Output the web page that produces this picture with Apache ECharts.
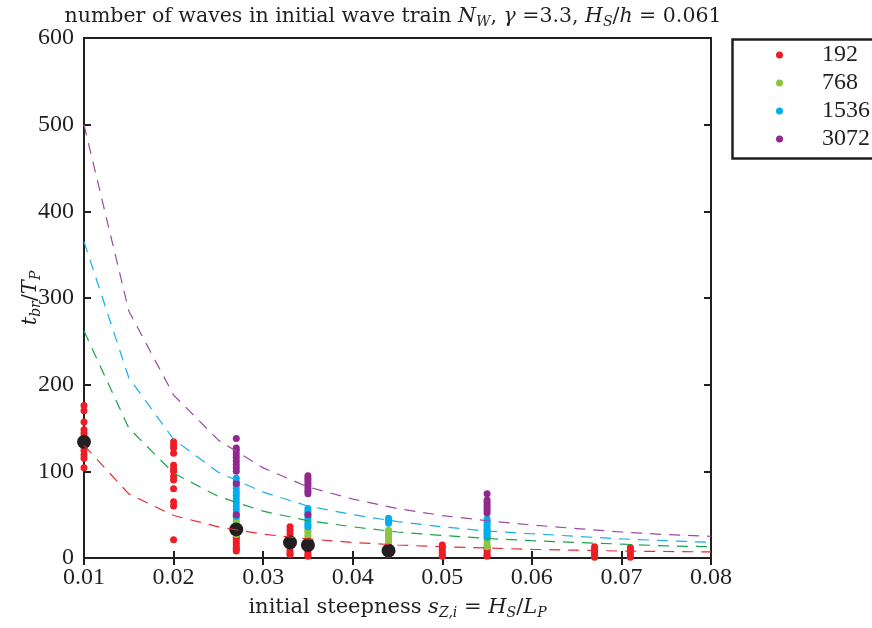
<!DOCTYPE html>
<html>
<head>
<meta charset="utf-8">
<script src="https://cdn.jsdelivr.net/npm/echarts@6/dist/echarts.min.js"></script>
<style>html,body{margin:0;padding:0;background:#fff}#c{width:872px;height:628px}</style>
</head>
<body>
<div id="c"></div>
<script>
// ---- data ----
const seriesNames = ['192', '768', '1536', '3072'];
const scatterColors = ['#ee1c25', '#8cc63f', '#00aeef', '#92278f'];
const lineColors = ['#ea2a31', '#1aa34a', '#16b0e8', '#9a4aa0'];

// scatter groups: [steepness, [t_br/T_P values]]
const pts192 = [
  [0.01, [176, 170, 157, 148, 144, 139, 134, 128, 124, 119, 115, 104]],
  [0.02, [134, 130, 127, 121, 107, 103, 100, 94, 90, 80, 65, 60, 21]],
  [0.027, [30, 27, 24, 21, 18, 15, 12, 10, 8]],
  [0.033, [36, 32, 28, 24, 20, 16, 12, 8, 5, 4]],
  [0.035, [15, 12, 9, 6, 3, 2]],
  [0.044, [8, 6, 4]],
  [0.05, [15, 12, 9, 6, 3, 2]],
  [0.055, [12, 9, 6, 3, 2]],
  [0.067, [13, 10, 7, 4, 1]],
  [0.071, [12, 9, 6, 3, 1]]
];
const pts768 = [
  [0.027, [48, 45, 42, 39, 36, 33, 30, 27]],
  [0.035, [35, 32, 29, 26, 23, 20, 17]],
  [0.044, [32, 29, 26, 23, 20, 17, 15]],
  [0.055, [32, 28, 24, 20, 16, 13]]
];
const pts1536 = [
  [0.027, [92, 88, 84, 80, 76, 72, 68, 64, 60, 56, 52, 48]],
  [0.035, [57, 54, 51, 48, 45, 42, 39, 36]],
  [0.044, [46, 43, 40]],
  [0.055, [45, 42, 39, 36, 33, 30, 27, 24]]
];
const pts3072 = [
  [0.027, [138, 127, 124, 120, 116, 112, 108, 104, 100, 86, 50]],
  [0.035, [95, 92, 89, 86, 83, 80, 77, 74, 50]],
  [0.055, [74, 67, 64, 61, 58, 55, 52]]
];
// median markers
const medianX = [0.01, 0.027, 0.033, 0.035, 0.044];
const medianY = [134, 33, 18, 15, 8.5];

// dashed fit curves
const curveX = [0.01, 0.015, 0.02, 0.025, 0.03, 0.035, 0.04, 0.045, 0.05, 0.055, 0.06, 0.065, 0.07, 0.075, 0.08];
const curve192 = [130, 74, 49, 36, 27.5, 22, 18, 15, 13, 11.5, 10, 9, 8, 7.5, 7];
const curve768 = [262, 150, 98, 71, 54, 43, 36, 30, 26, 22.5, 20, 18, 16, 14, 13];
const curve1536 = [365, 208, 137, 99, 76, 60, 50, 42, 36, 31, 28, 25, 22, 20, 18];
const curve3072 = [500, 285, 188, 136, 104, 82, 68, 57, 49, 43, 38, 34, 30, 27, 25];

// axis ticks
const xTicks = [0.01, 0.02, 0.03, 0.04, 0.05, 0.06, 0.07, 0.08];
const yTicks = [0, 100, 200, 300, 400, 500, 600];

// ---- build ----
const FONT = '"Liberation Serif", "DejaVu Serif", serif';
const MFONT = '"DejaVu Serif", "Liberation Serif", serif';
const INK = '#231f20';
function flat(groups) {
  const out = [];
  groups.forEach(g => g[1].forEach(v => out.push([g[0], v])));
  return out;
}
const groups = [pts192, pts768, pts1536, pts3072];
const curves = [curve192, curve768, curve1536, curve3072];

const series = [];
groups.forEach((g, i) => {
  series.push({
    name: seriesNames[i], type: 'scatter', data: flat(g),
    symbol: 'circle', symbolSize: 7, z: 2 + i,
    itemStyle: { color: scatterColors[i], opacity: 1 }
  });
});
series.push({
  name: 'median', type: 'scatter', data: medianX.map((x, i) => [x, medianY[i]]),
  symbol: 'circle', symbolSize: 14, z: 8, itemStyle: { color: INK, opacity: 1 }
});
curves.forEach((c, i) => {
  series.push({
    name: 'fit' + seriesNames[i], type: 'line', data: curveX.map((x, k) => [x, c[k]]),
    showSymbol: false, symbol: 'none', z: 10, smooth: false,
    lineStyle: { color: lineColors[i], width: 1.2, type: [11, 8] }
  });
});

function mkRich(fs, ss, pad) {
  return {
    t: { fontFamily: MFONT, fontSize: fs, fontWeight: 'normal', color: INK },
    i: { fontFamily: MFONT, fontSize: fs, fontWeight: 'normal', fontStyle: 'italic', color: INK },
    s: { fontFamily: MFONT, fontSize: ss, fontWeight: 'normal', fontStyle: 'italic', color: INK, padding: [pad, 0, 0, 0] }
  };
}

const chart = echarts.init(document.getElementById('c'), null, { renderer: 'canvas' });
chart.setOption({
  backgroundColor: '#fff',
  animation: false,
  title: {
    text: '{t|number of waves in initial wave train }{i|N}{s|W}{t|, }{i|γ}{t| =3.3, }{i|H}{s|S}{t|/}{i|h}{t| = 0.061}',
    left: 388, top: 0, textAlign: 'center',
    textStyle: { fontWeight: 'normal', rich: mkRich(20.5, 14, 10) }
  },
  grid: { left: 84, right: 161, top: 38, bottom: 70, show: true, borderColor: INK, borderWidth: 2,
    containLabel: false, outerBoundsMode: 'none' },
  legend: {
    data: seriesNames, orient: 'vertical', left: 771, top: 38,
    icon: 'circle', itemWidth: 7, itemHeight: 7, itemGap: 4,
    textStyle: { fontFamily: FONT, fontSize: 24, color: INK, lineHeight: 24, padding: [0, 0, 0, 34] }
  },
  graphic: [{
    type: 'rect', left: 730, top: 37, shape: { width: 170, height: 119 },
    style: { fill: 'none', stroke: INK, lineWidth: 2.5 }, z: 100
  }],
  xAxis: [{
    type: 'value', min: 0.01, max: 0.08, interval: 0.01,
    name: '{t|initial steepness }{i|s}{s|Z,i}{t| = }{i|H}{s|S}{t|/}{i|L}{s|P}',
    nameLocation: 'middle', nameGap: 38, nameMoveOverlap: false,
    nameTextStyle: { rich: mkRich(21, 14, 10) },
    axisLine: { show: true, lineStyle: { color: INK, width: 2 } },
    axisTick: { show: true, inside: true, length: 7, lineStyle: { color: INK, width: 2 } },
    axisLabel: { fontFamily: FONT, fontSize: 24, color: INK, margin: 8,
      formatter: v => xTicks.indexOf(+v.toFixed(2)) >= 0 ? v.toFixed(2) : '' },
    splitLine: { show: false }
  }, {
    type: 'value', min: 0.01, max: 0.08, interval: 0.01, position: 'top',
    axisLine: { show: false }, axisLabel: { show: false }, splitLine: { show: false },
    axisTick: { show: true, inside: true, length: 7, lineStyle: { color: INK, width: 2 } }
  }],
  yAxis: [{
    type: 'value', min: 0, max: 600, interval: 100,
    name: '{i|t}{s|br}{t|/}{i|T}{s|P}', nameLocation: 'middle', nameGap: 41, nameRotate: 90,
    nameMoveOverlap: false,
    nameTextStyle: { rich: mkRich(21, 14, 10) },
    axisLine: { show: true, lineStyle: { color: INK, width: 2 } },
    axisTick: { show: true, inside: true, length: 7, lineStyle: { color: INK, width: 2 } },
    axisLabel: { fontFamily: FONT, fontSize: 24, color: INK, margin: 10,
      formatter: v => yTicks.indexOf(v) >= 0 ? String(v) : '' },
    splitLine: { show: false }
  }, {
    type: 'value', min: 0, max: 600, interval: 100, position: 'right',
    axisLine: { show: false }, axisLabel: { show: false }, splitLine: { show: false },
    axisTick: { show: true, inside: true, length: 7, lineStyle: { color: INK, width: 2 } }
  }],
  series: series
});
</script>
</body>
</html>
